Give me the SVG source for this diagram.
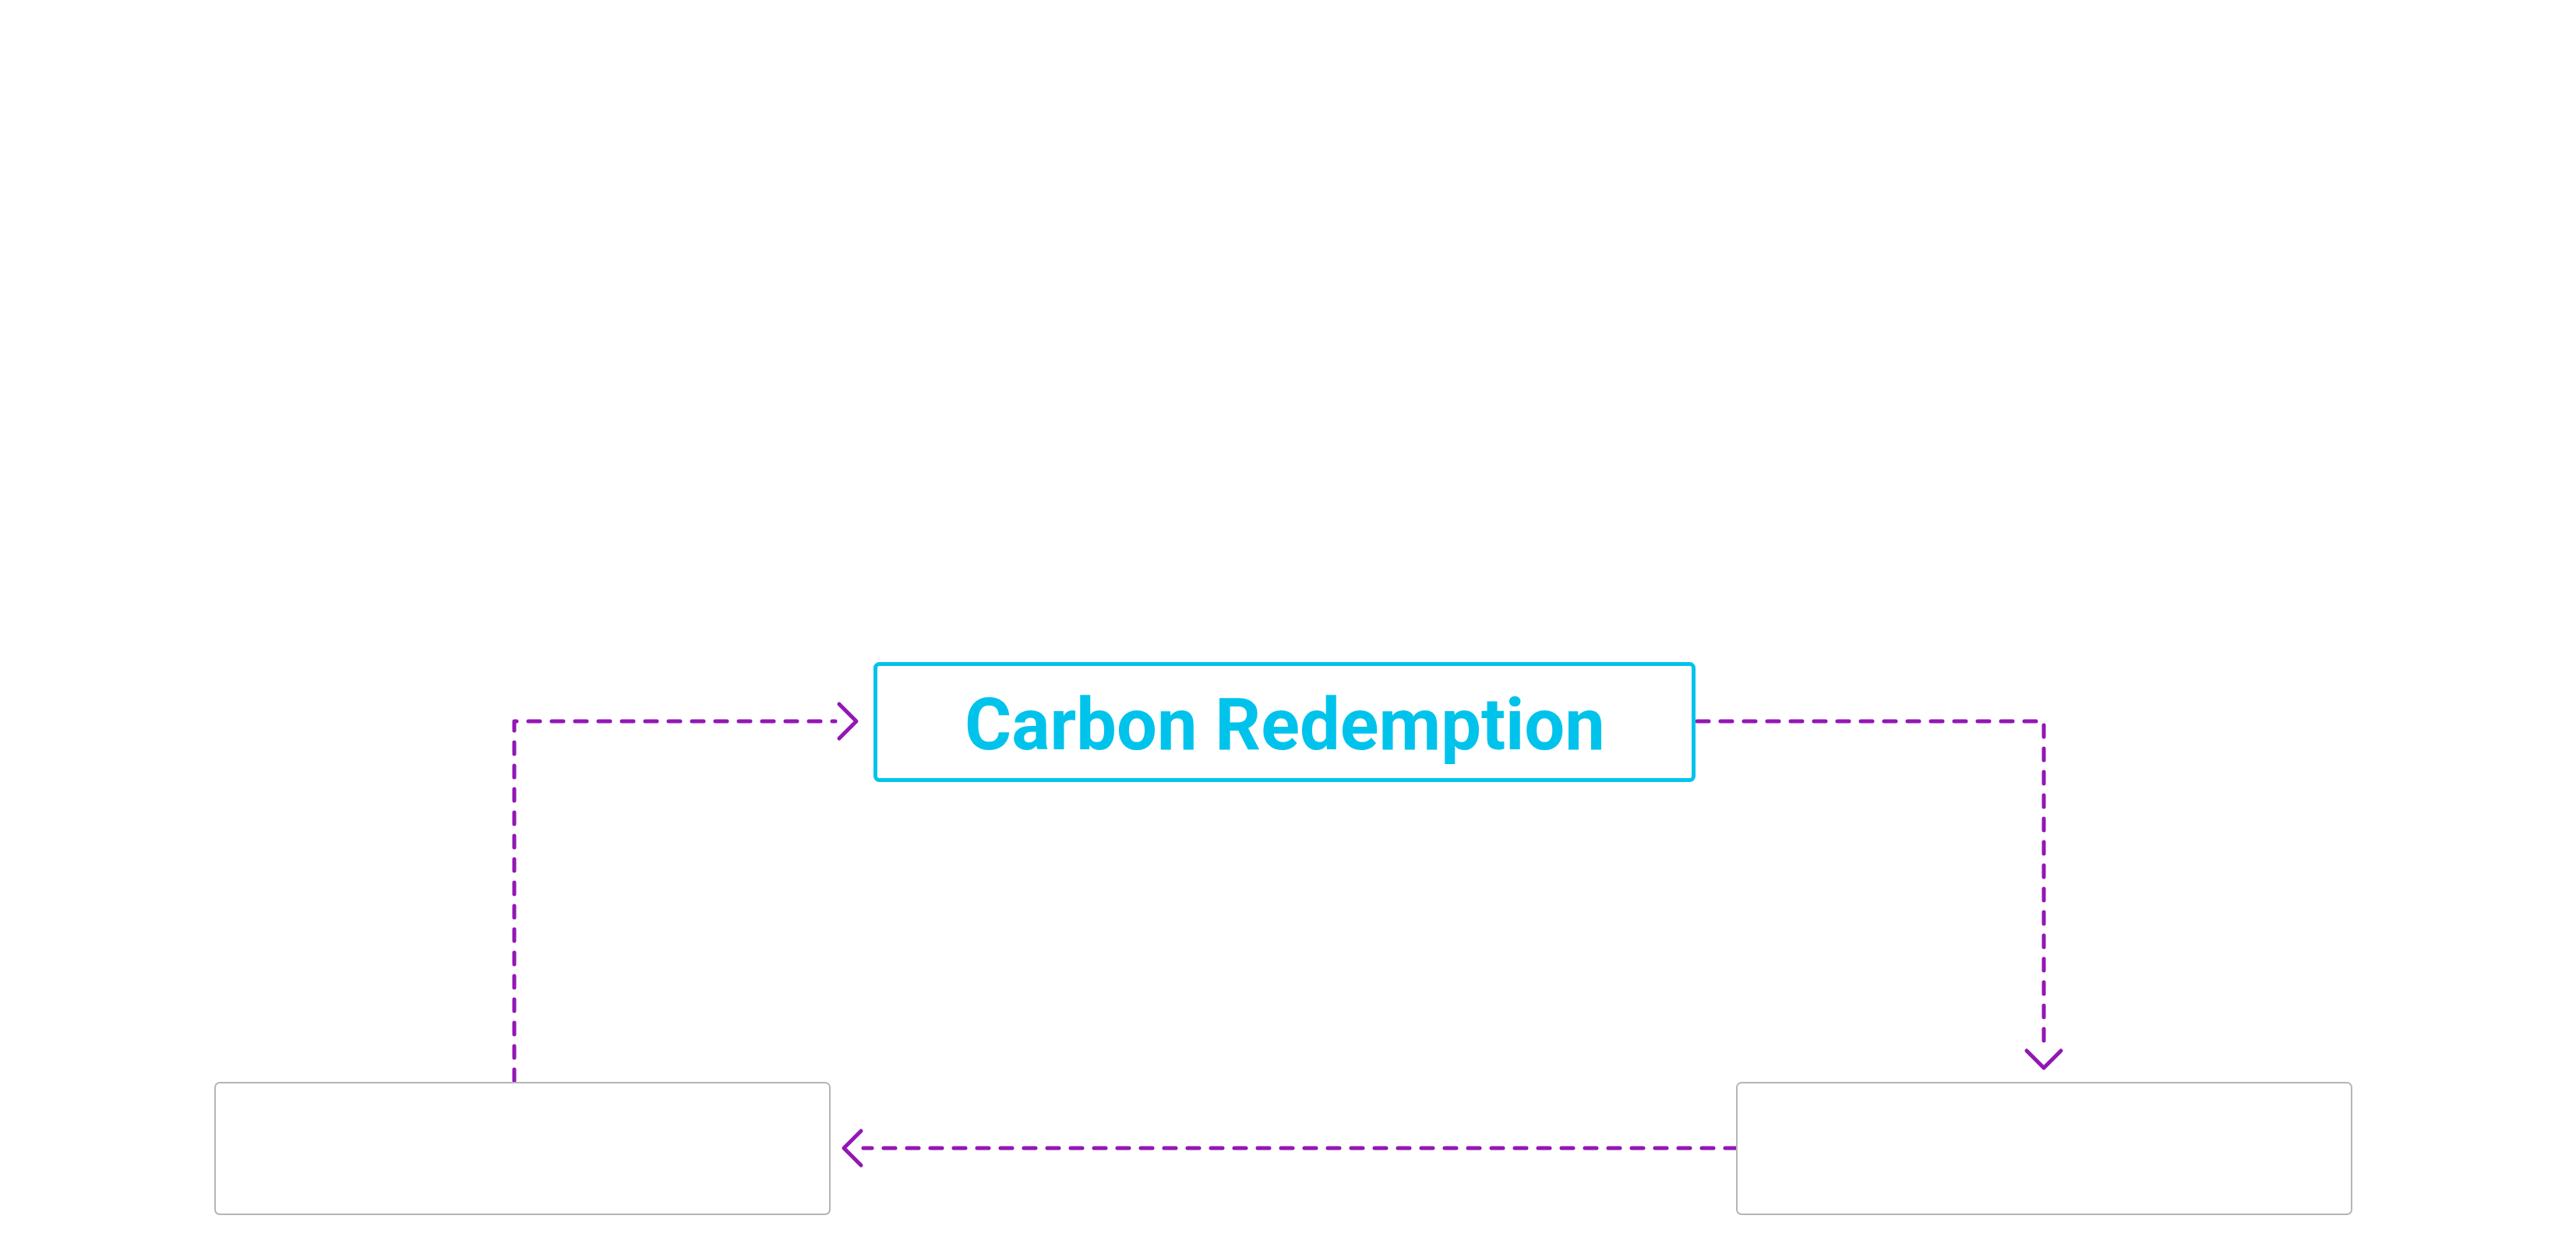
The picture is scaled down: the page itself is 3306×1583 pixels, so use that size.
<svg xmlns="http://www.w3.org/2000/svg" width="3306" height="1583" viewBox="0 0 3306 1583">
<style>
.conn{fill:none;stroke:#9317B4;stroke-width:5;stroke-linecap:round;stroke-linejoin:round;stroke-dasharray:15 15}
.head{fill:none;stroke:#9317B4;stroke-width:5;stroke-linecap:round;stroke-linejoin:round}
.main{fill:#FFFFFF;stroke:#00C3EC;stroke-width:5}
.plain{fill:#FFFFFF;stroke:#B5B5B5;stroke-width:2}
.title{font-family:Roboto,"Liberation Sans",sans-serif;font-weight:700;font-size:92px;fill:#00C3EC}
</style>
<rect width="3306" height="1583" fill="#FFFFFF"/>
<g id="connectors">
<path class="conn" d="M660,1388 L660,926 L1072,926"/>
<path class="head" d="M1077,904 L1099,926 L1077,948"/>
<path class="conn" d="M2178,926 L2623,926 L2623,1350"/>
<path class="head" d="M2601,1349 L2623,1371 L2645,1349"/>
<path class="conn" d="M2229,1474 L1108,1474"/>
<path class="head" d="M1105,1452 L1083,1474 L1105,1496"/>
</g>
<g id="node-carbon-redemption">
<rect class="main" x="1123.5" y="852.5" width="1050" height="149" rx="5"/>
<text class="title" x="1649" y="962" text-anchor="middle">Carbon Redemption</text>
</g>
<g id="node-left">
<rect class="plain" x="276" y="1390" width="789" height="169" rx="6"/>
</g>
<g id="node-right">
<rect class="plain" x="2229" y="1390" width="789" height="169" rx="6"/>
</g>
</svg>
